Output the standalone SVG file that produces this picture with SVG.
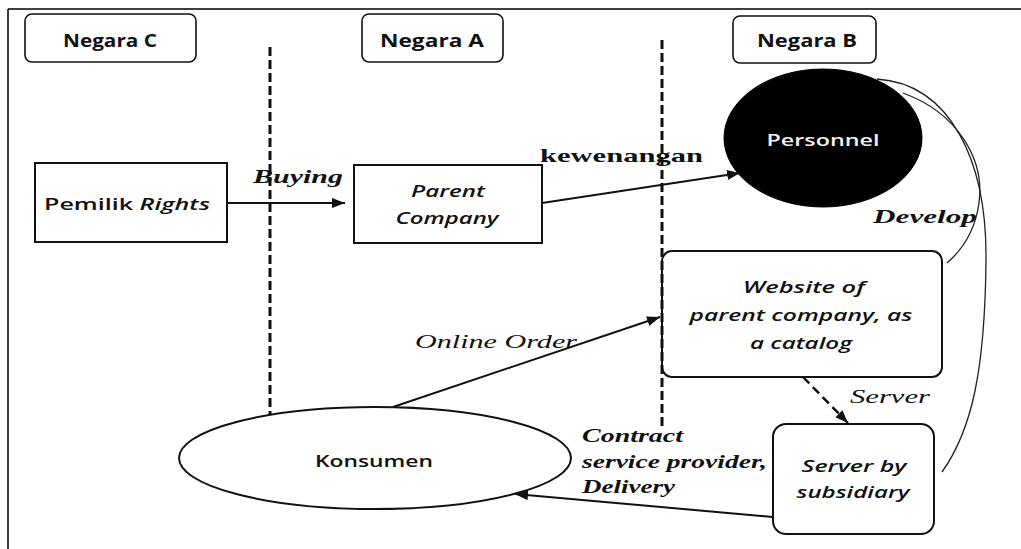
<svg xmlns="http://www.w3.org/2000/svg" width="1021" height="549" viewBox="0 0 1021 549">
<style>
.frame{fill:none;stroke:#000;stroke-width:1.5}
.box{fill:none;stroke:#111;stroke-width:2}
.hdr{fill:#fff;stroke:#111;stroke-width:1.6}
.sep{fill:none;stroke:#111;stroke-width:3;stroke-dasharray:9 4}
.ln{fill:none;stroke:#111;stroke-width:2}
.dash{fill:none;stroke:#111;stroke-width:2.5;stroke-dasharray:9 5}
.curve{fill:none;stroke:#222;stroke-width:1.3}
.hd{font-family:"Open Sans","Liberation Sans",sans-serif;font-weight:bold;font-size:17px;fill:#111;text-anchor:middle}
.nt{font-family:"Open Sans","Liberation Sans",sans-serif;font-weight:600;font-size:17px;fill:#111;text-anchor:middle}
.it{font-style:italic}
.lb{font-family:"Liberation Serif","DejaVu Serif",serif;font-size:19px;fill:#111}
.bi{font-weight:bold;font-style:italic}
.b{font-weight:bold}
</style>
<defs>
<marker id="ah" markerUnits="userSpaceOnUse" markerWidth="14" markerHeight="12" refX="13" refY="6" orient="auto">
<path d="M0,1 L13,6 L0,11 Z" fill="#111"/>
</marker>
</defs>
<rect width="1021" height="549" fill="#fff"/>
<g id="frame">
<path class="frame" d="M8,9 H1021 M8,9 V549"/>
</g>
<g id="separators">
<path class="sep" d="M270,47 V414"/>
<path class="sep" d="M662,40 V427"/>
</g>
<g id="negara-c"><rect class="hdr" x="25" y="14" width="171" height="48" rx="7"/><text class="hd" x="110" y="47" textLength="94" lengthAdjust="spacingAndGlyphs">Negara C</text></g>
<g id="negara-a"><rect class="hdr" x="362" y="14" width="141" height="48" rx="7"/><text class="hd" x="432" y="47" textLength="104" lengthAdjust="spacingAndGlyphs">Negara A</text></g>
<g id="negara-b"><rect class="hdr" x="733" y="16" width="143" height="47" rx="7"/><text class="hd" x="807" y="47" textLength="100" lengthAdjust="spacingAndGlyphs">Negara B</text></g>
<g id="pemilik"><rect class="box" x="35" y="163" width="192" height="79"/><text class="nt" x="127" y="210" textLength="166" lengthAdjust="spacingAndGlyphs">Pemilik <tspan class="it">Rights</tspan></text></g>
<g id="parent"><rect class="box" x="354" y="165" width="188" height="78"/><text class="nt it" x="448" y="197" textLength="74" lengthAdjust="spacingAndGlyphs">Parent</text><text class="nt it" x="447" y="224" textLength="103" lengthAdjust="spacingAndGlyphs">Company</text></g>
<g id="personnel"><ellipse cx="823" cy="138" rx="99" ry="69" fill="#000" stroke="#000"/><text class="nt" x="823" y="146" style="fill:#f2f2f2" textLength="113" lengthAdjust="spacingAndGlyphs">Personnel</text></g>
<g id="website"><rect class="box" x="662" y="251" width="280" height="126" rx="10"/><text class="nt it" x="804" y="293" textLength="122" lengthAdjust="spacingAndGlyphs">Website of</text><text class="nt it" x="801" y="321" textLength="223" lengthAdjust="spacingAndGlyphs">parent company, as</text><text class="nt it" x="801" y="349" textLength="102" lengthAdjust="spacingAndGlyphs">a catalog</text></g>
<g id="server"><rect class="box" x="773" y="424" width="161" height="110" rx="13"/><text class="nt it" x="854" y="472" textLength="105" lengthAdjust="spacingAndGlyphs">Server by</text><text class="nt it" x="853" y="498" textLength="113" lengthAdjust="spacingAndGlyphs">subsidiary</text></g>
<g id="konsumen"><ellipse class="box" cx="375" cy="458" rx="196" ry="51"/><text class="nt" x="374" y="467" textLength="118" lengthAdjust="spacingAndGlyphs">Konsumen</text></g>
<g id="connectors">
<path class="ln" d="M227,203 H345" marker-end="url(#ah)"/>
<path class="ln" d="M542,203 L740,173" marker-end="url(#ah)"/>
<path class="ln" d="M393,407 L660,317" marker-end="url(#ah)"/>
<path class="dash" d="M803,377 L848,423" marker-end="url(#ah)"/>
<path class="ln" d="M773,517 L515,494" marker-end="url(#ah)"/>
<path class="curve" d="M903,93 C958,113 985,160 979,203 C975,232 962,250 947,263"/>
<path class="curve" d="M877,79 C950,84 987,160 986,260 C985,370 972,430 942,472"/>
</g>
<g id="labels">
<text class="lb bi" x="253" y="183" textLength="90" lengthAdjust="spacingAndGlyphs">Buying</text>
<text class="lb b" x="540" y="162" textLength="163" lengthAdjust="spacingAndGlyphs">kewenangan</text>
<text class="lb bi" x="873" y="223" textLength="104" lengthAdjust="spacingAndGlyphs">Develop</text>
<text class="lb it" x="415" y="348" font-size="20" textLength="162" lengthAdjust="spacingAndGlyphs">Online Order</text>
<text class="lb it" x="850" y="403" textLength="80" lengthAdjust="spacingAndGlyphs">Server</text>
<text class="lb bi" x="582" y="442" textLength="101" lengthAdjust="spacingAndGlyphs">Contract</text>
<text class="lb bi" x="582" y="468" textLength="185" lengthAdjust="spacingAndGlyphs">service provider,</text>
<text class="lb bi" x="582" y="493" textLength="93" lengthAdjust="spacingAndGlyphs">Delivery</text>
</g>
</svg>
